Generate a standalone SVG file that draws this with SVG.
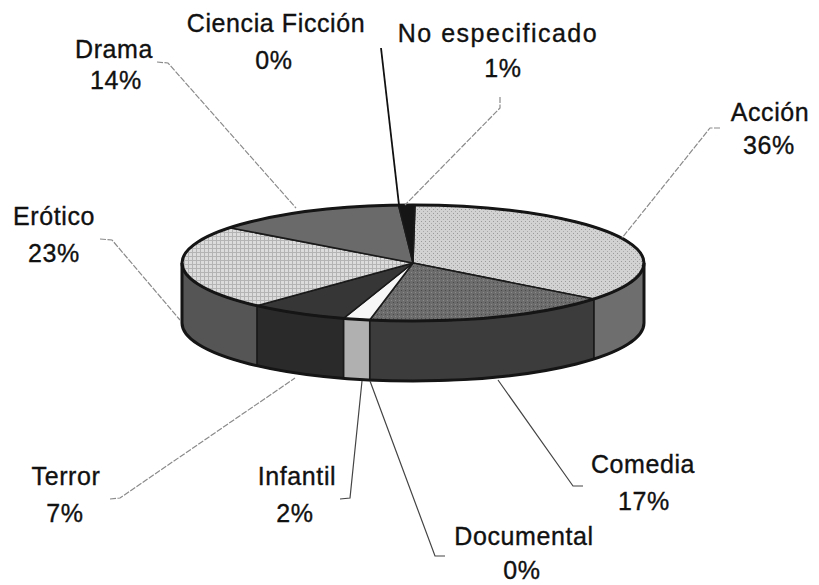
<svg xmlns="http://www.w3.org/2000/svg" width="819" height="585" viewBox="0 0 819 585">
<style>
  text { font-family: "Liberation Sans", Arial, sans-serif; font-size: 25px; fill: #111; stroke: #111; stroke-width: 0.35; text-anchor: middle; letter-spacing: 0.6px; }
  .wide { letter-spacing: 1.5px; }
  .face { stroke: #1a1a1a; stroke-width: 1.5; stroke-linejoin: round; }
  .lead { fill: none; stroke: #8a8a8a; stroke-width: 1.2; stroke-dasharray: 6 1.5; }
  .lead-dark { fill: none; stroke: #444; stroke-width: 1.2; }
  .lead-black { fill: none; stroke: #111; stroke-width: 1.8; }
  .outline { fill: none; stroke: #151515; stroke-width: 3; stroke-linejoin: round; }
</style>
<defs>
  <pattern id="dots" width="4" height="4" patternUnits="userSpaceOnUse">
    <rect width="4" height="4" fill="#d2d2d2"/>
    <rect x="1" y="1" width="1" height="1" fill="#9a9a9a"/>
    <rect x="3" y="3" width="1" height="1" fill="#a8a8a8"/>
  </pattern>
  <pattern id="grid" width="4" height="4" patternUnits="userSpaceOnUse">
    <rect width="4" height="4" fill="#dcdcdc"/>
    <rect x="0" y="0" width="4" height="1" fill="#b4b4b4"/>
    <rect x="0" y="0" width="1" height="4" fill="#b4b4b4"/>
  </pattern>
  <pattern id="midgray" width="4" height="4" patternUnits="userSpaceOnUse">
    <rect width="4" height="4" fill="#6c6c6c"/>
    <rect x="1" y="2" width="1" height="1" fill="#4a4a4a"/>
    <rect x="3" y="0" width="1" height="1" fill="#8a8a8a"/>
  </pattern>
</defs>

<rect width="819" height="585" fill="#ffffff"/>

<g id="accion">
  <path class="face" fill="#6e6e6e" d="M644,263 A231,58 0 0 1 593.8,299.1 L593.8,359.1 A231,58 0 0 0 644,323 Z"/>
  <path class="face" fill="url(#dots)" d="M413,263 L415,205 A231,58 0 0 1 593.8,299.1 Z"/>
  <text x="770" y="121">Acción</text>
  <text x="769" y="154">36%</text>
</g>

<g id="comedia">
  <path class="face" fill="#3c3c3c" d="M593.8,299.1 A231,58 0 0 1 369.7,320 L369.7,380 A231,58 0 0 0 593.8,359.1 Z"/>
  <path class="face" fill="url(#midgray)" d="M413,263 L593.8,299.1 A231,58 0 0 1 369.7,320 Z"/>
  <text x="643" y="473">Comedia</text>
  <text x="644" y="510">17%</text>
</g>

<g id="documental">
  <text x="524" y="545">Documental</text>
  <text x="522" y="579">0%</text>
</g>

<g id="infantil">
  <path class="face" fill="#b0b0b0" d="M369.7,320 A231,58 0 0 1 343.5,318.3 L343.5,378.3 A231,58 0 0 0 369.7,380 Z"/>
  <path class="face" fill="#f6f6f6" d="M413,263 L369.7,320 A231,58 0 0 1 343.5,318.3 Z"/>
  <text x="297" y="485">Infantil</text>
  <text x="295" y="522">2%</text>
</g>

<g id="terror">
  <path class="face" fill="#2a2a2a" d="M343.5,318.3 A231,58 0 0 1 256.9,305.8 L256.9,365.8 A231,58 0 0 0 343.5,378.3 Z"/>
  <path class="face" fill="#363636" d="M413,263 L343.5,318.3 A231,58 0 0 1 256.9,305.8 Z"/>
  <text x="66" y="485">Terror</text>
  <text x="65" y="522">7%</text>
</g>

<g id="erotico">
  <path class="face" fill="#555555" d="M256.9,305.8 A231,58 0 0 1 182,263 L182,323 A231,58 0 0 0 256.9,365.8 Z"/>
  <path class="face" fill="url(#grid)" d="M413,263 L256.9,305.8 A231,58 0 0 1 229.7,227.7 Z"/>
  <text x="54" y="225">Erótico</text>
  <text x="54" y="262">23%</text>
</g>

<g id="drama">
  <path class="face" fill="#6a6a6a" d="M413,263 L229.7,227.7 A231,58 0 0 1 398.5,205.1 Z"/>
  <text x="114" y="58">Drama</text>
  <text x="116" y="89">14%</text>
</g>

<g id="ciencia-ficcion">
  <text x="276" y="32">Ciencia Ficción</text>
  <text x="274" y="69">0%</text>
</g>

<g id="no-especificado">
  <path class="face" fill="#151515" d="M413,263 L398.5,205.1 A231,58 0 0 1 415,205 Z"/>
  <text class="wide" x="498" y="42">No especificado</text>
  <text x="503" y="77">1%</text>
</g>

<g id="pie-outline">
  <ellipse class="outline" cx="413" cy="263" rx="231" ry="58"/>
  <path class="outline" d="M182,263 L182,323 A231,58 0 0 0 644,323 L644,263"/>
</g>

<g id="connectors">
  <polyline class="lead" points="157,62 168,63 296,208"/>
  <polyline class="lead-black" points="381,48 399,205"/>
  <polyline class="lead" points="500,97 500,108 405,205"/>
  <polyline class="lead" points="720,128 710,128 622,238"/>
  <polyline class="lead" points="100,239 112,240 180,320"/>
  <polyline class="lead" points="110,499 120,498 295,378"/>
  <polyline class="lead-dark" points="340,499 350,498 362,381"/>
  <polyline class="lead-dark" points="445,556 435,556 370,381"/>
  <polyline class="lead-dark" points="583,486 573,486 498,380"/>
</g>
</svg>
